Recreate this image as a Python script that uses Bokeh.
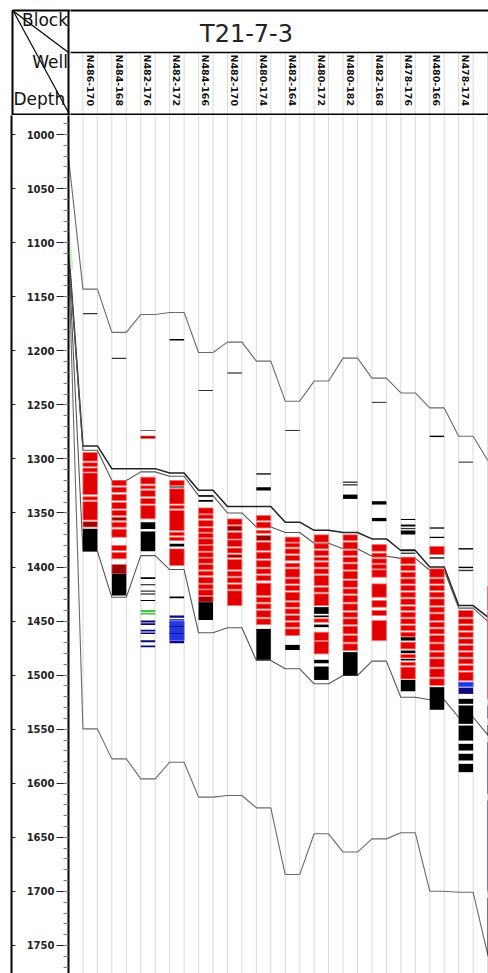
import numpy as np
from bokeh.plotting import figure
from bokeh.models import Range1d, LinearAxis, FixedTicker
from bokeh.layouts import column, row
from bokeh.embed import file_html
from bokeh.resources import INLINE
from bokeh.core.properties import value

# ---------------- data ----------------
block_name = "T21-7-3"
wells = ["N486-170", "N484-168", "N482-176", "N482-172", "N484-166", "N482-170",
         "N480-174", "N482-164", "N480-172", "N480-182", "N482-168", "N478-176",
         "N480-166", "N478-174"]

depth_ticks = list(range(1000, 1751, 50))
depth_minor = list(range(990, 1771, 10))

# horizon depths: value at block edge, then one value per well (15th well is at the page edge)
h1_edge = 1021
h1 = [1143, 1183, 1166.5, 1164.6, 1201.6, 1192, 1209.6, 1246.6, 1228, 1206.8, 1225.3, 1239, 1252.8, 1279, 1301]
h2a_edge = 1105
h2a = [1288, 1309, 1309, 1313, 1329, 1344, 1344, 1358.5, 1366, 1368, 1374, 1384.7, 1400, 1435.6, 1446]
h2b_edge = 1107
h2b = [1292, 1320, 1312, 1316, 1334, 1350, 1363, 1368, 1378, 1383, 1390, 1392, 1403, 1438, 1450]
h3_edge = 1109
h3 = [1385.4, 1428, 1389.4, 1402.3, 1460.8, 1456.2, 1486.4, 1494.1, 1508, 1500.3, 1487, 1520.4, 1522.8, 1538.9, 1555]
h4_edge = 1111
h4 = [1549.7, 1577.4, 1595.9, 1580.5, 1612.8, 1611.3, 1622.7, 1684.4, 1646.7, 1663.6, 1651.4, 1645.8, 1699.8, 1700.7, 1757.7]
hg_edge = [1092, 1124]   # faint green trace at the block edge

# intervals per well: (top, bottom, kind)  r=red d=dark red k=black m=thin mark g=green n=navy b=blue
W00 = [(1165, 1166.2, "m"), (1294, 1302, "r"), (1303.5, 1307, "r"), (1308.5, 1312, "r"), (1313, 1333, "r"),
       (1335, 1338, "r"), (1339.5, 1356.5, "r"), (1358, 1363, "d"), (1364.5, 1385.5, "k")]
W01 = [(1206.5, 1207.5, "m"), (1320, 1324.6, "r"), (1326.2, 1330.8, "r"), (1332.9, 1338.5, "r"),
       (1340.3, 1346.2, "r"), (1347.7, 1352.4, "r"), (1353.9, 1357, "d"), (1358.5, 1363.1, "r"),
       (1365, 1372.4, "r"), (1380.1, 1384.7, "r"), (1386.6, 1392.4, "r"), (1397.7, 1406.3, "d"),
       (1406.3, 1426.3, "k")]
W02 = [(1273.2, 1274, "m"), (1278.8, 1281.2, "d"), (1316.9, 1323.1, "r"), (1324.9, 1327.7, "r"),
       (1329.2, 1334.8, "r"), (1336.6, 1341.6, "r"), (1343.1, 1355.4, "r"), (1358.5, 1364.7, "k"),
       (1367.1, 1385.3, "k"), (1409.5, 1411, "k"), (1415.8, 1416.8, "k"), (1421.8, 1422.8, "m"),
       (1424.5, 1425.5, "k"), (1430.5, 1431.5, "k"), (1439.8, 1441.5, "g"), (1442.5, 1444, "g"),
       (1449.5, 1451.2, "n"), (1452, 1453.5, "n"), (1458, 1459.5, "n"), (1460.5, 1462, "n"),
       (1467.8, 1469.6, "n"), (1472.5, 1474.2, "n")]
W03 = [(1189, 1190.5, "k"), (1320, 1324.6, "r"), (1325.5, 1326.5, "k"), (1327.7, 1341.6, "r"),
       (1343.1, 1346.2, "r"), (1347.7, 1366.2, "r"), (1367.8, 1370.8, "r"), (1372.4, 1375.5, "r"),
       (1378.5, 1381, "k"), (1383.2, 1398.6, "r"), (1427.3, 1428.8, "k"), (1444.8, 1447, "n"),
       (1448.2, 1449.5, "n"), (1450, 1468, "b"), (1454.5, 1455.3, "n"), (1461, 1461.8, "n"),
       (1468.5, 1470.4, "n")]
W04 = [(1236.3, 1237.3, "m"), (1333.5, 1335, "k"), (1338, 1339.5, "k"), (1345.3, 1350.8, "r"),
       (1351.7, 1355.4, "r"), (1357, 1362.5, "r"), (1363.8, 1367.8, "r"), (1368.7, 1373, "r"),
       (1373.9, 1379.2, "r"), (1380.1, 1385.3, "r"), (1386.6, 1390.9, "r"), (1391.8, 1396.5, "r"),
       (1397.7, 1402.6, "r"), (1403.9, 1407.9, "r"), (1409.4, 1415, "r"), (1416.2, 1420.2, "r"),
       (1421.1, 1426.4, "r"), (1427.3, 1432.5, "d"), (1432.5, 1448.9, "k")]
W05 = [(1220, 1221, "k"), (1355.5, 1361, "r"), (1362, 1366.5, "d"), (1368, 1374, "r"), (1375, 1381, "r"),
       (1382.5, 1387, "r"), (1388.5, 1391.5, "d"), (1393, 1402.5, "r"), (1404, 1408.5, "r"),
       (1410, 1414.5, "r"), (1416, 1420.5, "r"), (1422, 1435.6, "r")]
W06 = [(1313.3, 1314.5, "k"), (1326.2, 1329.2, "k"), (1352.4, 1357, "r"), (1358.5, 1363.8, "r"),
       (1366.2, 1368.7, "r"), (1370.8, 1375.5, "d"), (1377, 1384.7, "r"), (1386.3, 1392.4, "r"),
       (1394, 1400.1, "r"), (1401.7, 1406.3, "r"), (1407.9, 1412.5, "r"), (1415, 1426.4, "r"),
       (1427.9, 1432.5, "r"), (1434.1, 1438.7, "r"), (1440.2, 1446.4, "r"), (1447.9, 1453.2, "r"),
       (1457.2, 1485.8, "k")]
W07 = [(1273.2, 1274.2, "m"), (1372.4, 1377, "r"), (1377.9, 1381.6, "r"), (1383.2, 1387.8, "r"),
       (1389.4, 1394, "r"), (1396.5, 1400.1, "r"), (1401.7, 1409.4, "r"), (1410.9, 1415.6, "r"),
       (1417.1, 1421.7, "r"), (1423.3, 1431, "r"), (1432.5, 1437.1, "r"), (1438.7, 1443.3, "r"),
       (1444.8, 1449.5, "r"), (1451, 1455.6, "r"), (1457.2, 1463.3, "r"), (1472, 1476.7, "k")]
W08 = [(1370.2, 1377, "r"), (1378.5, 1383.2, "r"), (1384.7, 1389.4, "r"), (1390.9, 1394, "r"),
       (1395.5, 1400.1, "r"), (1401.7, 1406.3, "r"), (1407.9, 1417.1, "r"), (1418.7, 1423.3, "r"),
       (1424.8, 1435.6, "r"), (1437.1, 1443.3, "k"), (1444.8, 1446.4, "k"), (1447.9, 1451, "r"),
       (1453.2, 1455.6, "k"), (1460.3, 1468, "r"), (1468.9, 1480.3, "r"), (1485.8, 1489, "k"),
       (1492, 1504.4, "k")]
W09 = [(1321, 1322, "k"), (1323.5, 1324.5, "k"), (1333, 1337, "k"), (1370.2, 1375.5, "r"),
       (1377, 1383.2, "r"), (1384.7, 1389.4, "r"), (1390.9, 1395.5, "r"), (1397.1, 1402.6, "r"),
       (1403.9, 1411, "r"), (1412.5, 1418.7, "r"), (1420.2, 1424.8, "r"), (1426.4, 1432.5, "r"),
       (1434.1, 1440.2, "r"), (1441.8, 1446.4, "r"), (1447.9, 1453.2, "r"), (1454.7, 1461.8, "r"),
       (1463.3, 1469.5, "r"), (1471, 1477.2, "r"), (1478.7, 1500.3, "k")]
W10 = [(1247.2, 1248.2, "m"), (1339.1, 1342.2, "k"), (1354.6, 1357.6, "k"), (1379.2, 1385.3, "r"),
       (1387.2, 1390.9, "r"), (1392.4, 1396.5, "r"), (1397.7, 1401.7, "r"), (1402.6, 1409.4, "r"),
       (1415.6, 1427.9, "r"), (1431, 1437.1, "r"), (1440.2, 1444.8, "r"), (1449.5, 1468, "r")]
W11 = [(1355.5, 1356.5, "k"), (1360.7, 1362.5, "k"), (1363.8, 1365, "m"), (1366.2, 1369.9, "k"),
       (1383.7, 1384.7, "k"), (1386.7, 1387.7, "k"), (1390.9, 1397.1, "r"), (1398.6, 1403.2, "r"),
       (1404.8, 1409.4, "r"), (1410.9, 1415.6, "r"), (1417.1, 1421.7, "r"), (1423.3, 1427.9, "r"),
       (1429.5, 1434.7, "r"), (1436.3, 1440.2, "r"), (1441.8, 1446.4, "r"), (1447.9, 1452.6, "r"),
       (1454.1, 1458.7, "r"), (1460.3, 1464.3, "r"), (1464.9, 1468, "k"), (1469.5, 1475.7, "r"),
       (1477.2, 1479.7, "k"), (1480.9, 1484, "r"), (1484.9, 1486.4, "k"), (1488, 1491, "r"),
       (1492.6, 1503.5, "r"), (1504.4, 1514.9, "k")]
W12 = [(1278.5, 1279.8, "k"), (1363.3, 1364.5, "k"), (1372, 1373.2, "k"), (1381, 1388.4, "r"),
       (1391, 1392.2, "k"), (1401.7, 1409.4, "r"), (1410.9, 1415.6, "r"), (1417.1, 1421.7, "r"),
       (1423.3, 1427.9, "r"), (1429.5, 1435.6, "r"), (1437.1, 1441.8, "r"), (1443.3, 1449.5, "r"),
       (1451, 1455.6, "r"), (1457.2, 1461.8, "r"), (1463.3, 1469.5, "r"), (1471, 1477.2, "r"),
       (1478.7, 1483.3, "r"), (1484.9, 1492.6, "r"), (1494.1, 1501.8, "r"), (1503.3, 1509.5, "r"),
       (1511.1, 1532, "k")]
W13 = [(1302.5, 1303.5, "m"), (1382.5, 1383.8, "k"), (1399.7, 1401, "k"), (1402.5, 1403.8, "m"),
       (1440.2, 1446.4, "r"), (1447.9, 1452.6, "r"), (1454.1, 1458.7, "r"), (1460.3, 1464.9, "r"),
       (1466.5, 1471, "r"), (1472.6, 1477.2, "r"), (1478.7, 1483.3, "r"), (1484.9, 1489.5, "r"),
       (1491, 1495.7, "r"), (1497.2, 1504.9, "r"), (1506.5, 1510.5, "b"), (1511.5, 1517.3, "n"),
       (1521.9, 1526.5, "k"), (1528, 1545, "k"), (1546.6, 1560.5, "k"), (1563.5, 1569.7, "k"),
       (1572.7, 1578.9, "k"), (1582, 1589.7, "k")]
W14 = [(1418, 1440, "r"), (1442, 1522, "r"), (1528, 1540, "n"), (1546, 1556, "k"), (1562, 1610, "n"),
       (1616, 1700, "n"), (1706, 1760, "k")]
well_logs = [W00, W01, W02, W03, W04, W05, W06, W07, W08, W09, W10, W11, W12, W13, W14]

# ---------------- styling ----------------
FONT = value("DejaVu Sans")
PX = 28.9                  # pixels per well step
HALF = 0.25                # half width of a well column (well units)
X0 = -0.75                 # block edge (depth axis line)
X1 = X0 + 420 / PX
kind_fill = {"r": "#e00000", "d": "#9a0000", "k": "#000000", "m": "#333333",
             "g": "#33cc33", "n": "#0a0a78", "b": "#2436e0"}
kind_line = {"r": "#ff6a6a", "d": "#ff6a6a", "k": None, "m": None,
             "g": None, "n": None, "b": "#5060ff"}

gx = []
for i in range(len(wells) + 1):
    gx += [i - HALF, i + HALF]

# ---------------- header, left corner box ----------------
hl = figure(width=70, height=115, x_range=Range1d(0, 70), y_range=Range1d(115, 0),
            output_backend="svg", toolbar_location=None, min_border=0,
            x_axis_location=None, y_axis_location=None, outline_line_color=None)
hl.grid.visible = False
hl.segment(x0=[12, 12, 12, 68, 12, 13], y0=[10, 114, 10, 10, 10, 11],
           x1=[70, 70, 12, 68, 68, 68], y1=[10, 114, 115, 115, 52, 112],
           line_color="black", line_width=[2, 2, 2, 2, 1.2, 1.2])
hl.text(x=[67.5, 67.5], y=[19.5, 61.5], text=["Block", "Well"], text_font=FONT, text_font_size="17px",
        text_align="right", text_baseline="alphabetic", text_color="#111111")
hl.text(x=[13], y=[98.5], text=["Depth"], text_font=FONT, text_font_size="17px",
        text_align="left", text_baseline="alphabetic", text_color="#111111")

# ---------------- header, block + well names ----------------
hr = figure(width=418, height=115, x_range=Range1d(X0 + 2 / PX, X1), y_range=Range1d(115, 0),
            output_backend="svg", toolbar_location=None, min_border=0,
            x_axis_location=None, y_axis_location=None, outline_line_color=None)
hr.grid.visible = False
hr.segment(x0=gx, y0=[52] * len(gx), x1=gx, y1=[115] * len(gx), line_color="#d9d9d9", line_width=1)
hr.segment(x0=[X0, X0, X0], y0=[10, 52, 114], x1=[X1 + 1] * 3, y1=[10, 52, 114],
           line_color="black", line_width=[2, 1.5, 2])
hr.text(x=[(246 - 89.675) / PX], y=[33.5], text=[block_name], text_font=FONT,
        text_font_size="24px", text_align="center", text_baseline="alphabetic", text_color="#222222")
hr.text(x=list(range(len(wells))), y=[54] * len(wells), text=wells, angle=-np.pi / 2,
        text_font=FONT, text_font_size="9.5px", text_font_style="bold",
        text_align="left", text_baseline="middle", text_color="#111111")

# ---------------- main panel ----------------
p = figure(width=488, height=858, x_range=Range1d(X0, X1), y_range=Range1d(1775.9, 982.4),
           output_backend="svg", toolbar_location=None,
           min_border_left=68, min_border_right=0, min_border_top=0, min_border_bottom=0,
           x_axis_location=None, y_axis_location=None, outline_line_color=None)
p.grid.visible = False

ax = LinearAxis(ticker=FixedTicker(ticks=depth_ticks, minor_ticks=depth_minor),
                axis_line_color="black", axis_line_width=2,
                major_tick_out=12, major_tick_in=0, minor_tick_out=5, minor_tick_in=0,
                major_tick_line_color="#222222", minor_tick_line_color="#777777",
                major_label_text_font="DejaVu Sans", major_label_text_font_size="10px",
                major_label_text_font_style="bold", major_label_text_color="#222222",
                major_label_standoff=2,
                axis_label="\u00a0", axis_label_standoff=0, axis_label_text_font_size="8px")
p.add_layout(ax, "left")
ax2 = LinearAxis(ticker=FixedTicker(ticks=depth_ticks, minor_ticks=[]),
                 axis_line_color="black", axis_line_width=2,
                 major_tick_out=0, major_tick_in=4, minor_tick_out=0, minor_tick_in=0,
                 major_tick_line_color="#222222",
                 major_label_overrides={t: "" for t in depth_ticks},
                 major_label_text_font_size="0px", major_label_standoff=0)
p.add_layout(ax2, "left")

p.segment(x0=gx, y0=[982.4] * len(gx), x1=gx, y1=[1780] * len(gx), line_color="#d9d9d9", line_width=1)

def horizon(edge, vals):
    xs, ys = [X0], [edge]
    for i, d in enumerate(vals):
        xs += [i - HALF, i + HALF]
        ys += [d, d]
    return xs, ys

hx, hy = [], []
for edge, vals in [(h1_edge, h1), (h2a_edge, h2a), (h2b_edge, h2b), (h3_edge, h3), (h4_edge, h4)]:
    a, b = horizon(edge, vals)
    hx.append(a)
    hy.append(b)
p.multi_line(xs=hx, ys=hy, line_color=["#6a6a6a", "#222222", "#555555", "#555555", "#6a6a6a"],
             line_width=[1.1, 1.5, 1.1, 1.1, 1.1])
p.line(x=[X0, X0 + 0.12], y=hg_edge, line_color="#b8ecb0", line_width=3, line_alpha=0.8)

L, R, T, B, F, LC = [], [], [], [], [], []
for i, log in enumerate(well_logs):
    for top, bot, kind in log:
        L.append(i - HALF)
        R.append(i + HALF)
        T.append(top)
        B.append(bot)
        F.append(kind_fill[kind])
        LC.append(kind_line[kind])
p.quad(left=L, right=R, top=T, bottom=B, fill_color=F, line_color=LC, line_width=0.8)

layout = column(row(hl, hr), p)
open("out.html", "w").write(file_html(layout, INLINE))
